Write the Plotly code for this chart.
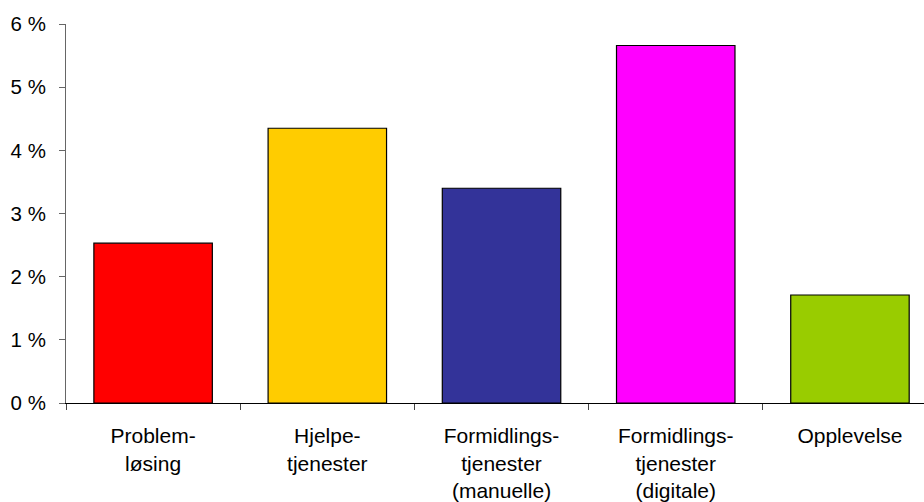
import plotly.graph_objects as go

# Categories (multi-line labels) and their share, in percent
categories = [
    "Problem-<br>løsing",
    "Hjelpe-<br>tjenester",
    "Formidlings-<br>tjenester<br>(manuelle)",
    "Formidlings-<br>tjenester<br>(digitale)",
    "Opplevelse",
]
values = [2.53, 4.35, 3.40, 5.66, 1.71]
colors = ["#FF0000", "#FFCC00", "#333399", "#FF00FF", "#99CC00"]
y_ticks = [0, 1, 2, 3, 4, 5, 6]

fig = go.Figure(
    go.Bar(
        x=categories,
        y=values,
        marker=dict(color=colors, line=dict(color="#000000", width=1.2)),
        width=0.68,
    )
)

family = "Liberation Sans, Arial, sans-serif"
x_font = dict(family=family, size=21, color="#000000")
y_font = dict(family=family, size=20.5, color="#000000")

fig.update_layout(
    width=924,
    height=502,
    margin=dict(l=66, r=0, t=24, b=99),
    paper_bgcolor="white",
    plot_bgcolor="white",
    font=x_font,
    showlegend=False,
)

fig.update_xaxes(
    type="category",
    range=[-0.5, 4.425],
    showline=True,
    linecolor="#000000",
    linewidth=1,
    ticks="outside",
    tickson="boundaries",
    ticklen=6,
    tickcolor="#444444",
    showgrid=False,
    tickfont=x_font,
    ticklabelstandoff=14,
)

fig.update_yaxes(
    range=[0, 6],
    tickvals=y_ticks,
    ticktext=[f"{v} %" for v in y_ticks],
    showline=True,
    linecolor="#666666",
    linewidth=1,
    ticks="outside",
    ticklen=6,
    tickcolor="#666666",
    showgrid=False,
    zeroline=False,
    tickfont=y_font,
    ticklabelstandoff=9,
)

fig.write_html("out.html")
